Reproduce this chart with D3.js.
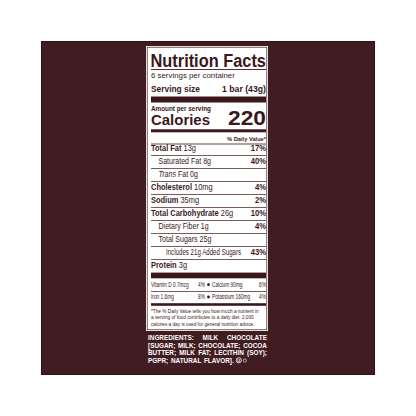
<!DOCTYPE html>
<html>
<head>
<meta charset="utf-8">
<script src="https://cdn.jsdelivr.net/npm/d3@7"></script>
<style>
  html, body { margin: 0; padding: 0; background: #ffffff; }
  svg { display: block; }
</style>
</head>
<body>
<svg id="label"></svg>
<script>
// 1. Data

const servingsText = "6 servings per container"
const servingSize = ["Serving size", "1 bar (43g)"]
const calories = "220"

const nutrients = ["Total Fat", "Saturated Fat", "Trans Fat", "Cholesterol", "Sodium",
  "Total Carbohydrate", "Dietary Fiber", "Total Sugars", "Includes 21g Added Sugars", "Protein"]
const amounts = ["13g", "8g", "0g", "10mg", "35mg", "26g", "1g", "25g", "", "3g"]
const dailyValues = ["17%", "40%", "", "4%", "2%", "10%", "4%", "", "43%", ""]
const levels = [0, 1, 1, 0, 0, 0, 1, 1, 2, 0]

const minerals = ["Vitamin D", "Calcium", "Iron", "Potassium"]
const mineralAmounts = ["0.7mcg", "90mg", "1.6mg", "160mg"]
const mineralDV = ["4%", "6%", "8%", "4%"]

const footnote = [
  "*The % Daily Value tells you how much a nutrient in",
  "a serving of food contributes to a daily diet. 2,000",
  "calories a day is used for general nutrition advice.",
]

const ingredients = [
  "INGREDIENTS: MILK CHOCOLATE",
  "[SUGAR; MILK; CHOCOLATE; COCOA",
  "BUTTER; MILK FAT; LECITHIN (SOY);",
  "PGPR; NATURAL FLAVOR].",
]

// 2. Dimensions

const width = 416
const height = 416
const square = { x: 41.5, y: 41.5, size: 333 }
const panel = { x0: 146, x1: 268, y0: 46, y1: 331 }
const L = 151
const R = 266
const ink = "#3a171b"
const maroon = "#411c21"
const font = "'Liberation Sans', Arial, Helvetica, sans-serif"

const wrapper = d3.select("#label")
    .attr("width", width)
    .attr("height", height)
    .attr("font-family", font)

// 3. Scales

const rowScale = d3.scaleLinear()
  .domain([0, nutrients.length - 1])
  .range([151, 268.3])

const indentScale = d3.scaleLinear()
  .domain([0, 2])
  .range([L, L + 15])

// helpers

// squeeze a text horizontally (condensed type) with a transform
function squeeze(t, x, y, target, factor) {
  const natural = t.node().getComputedTextLength()
  const sx = target ? target / natural : factor
  t.attr("x", 0).attr("y", 0)
      .attr("transform", `translate(${x},${y}) scale(${sx},1)`)
  return natural * sx
}

function addText(parent, str, x, y, size, opts = {}) {
  const t = parent.append("text")
      .attr("font-size", size)
      .attr("font-weight", opts.bold ? "bold" : "normal")
      .attr("text-anchor", opts.anchor || "start")
      .attr("fill", opts.fill || ink)
      .text(str)
  squeeze(t, x, y, opts.width, opts.cond || 0.88)
  return t
}

function rule(parent, y, h, x0 = L, x1 = R) {
  parent.append("rect")
      .attr("x", x0)
      .attr("y", y)
      .attr("width", x1 - x0)
      .attr("height", h)
      .attr("fill", ink)
}

// 4. Background square and white panel

wrapper.append("rect")
    .attr("x", square.x)
    .attr("y", square.y)
    .attr("width", square.size)
    .attr("height", square.size)
    .attr("fill", maroon)
    .attr("stroke", "#2f1215")
    .attr("stroke-width", 1)

wrapper.append("rect")
    .attr("x", panel.x0)
    .attr("y", panel.y0)
    .attr("width", panel.x1 - panel.x0)
    .attr("height", panel.y1 - panel.y0)
    .attr("fill", "#ffffff")

wrapper.append("rect")
    .attr("x", panel.x0 + 1.2)
    .attr("y", panel.y0 + 1.2)
    .attr("width", panel.x1 - panel.x0 - 2.4)
    .attr("height", panel.y1 - panel.y0 - 2.4)
    .attr("fill", "none")
    .attr("stroke", ink)
    .attr("stroke-width", 0.7)

const g = wrapper.append("g")

// 5. Header

addText(g, "Nutrition Facts", L - 0.5, 66.5, 17.5, { bold: true, width: 115.5 })
rule(g, 69, 0.9)
addText(g, servingsText, L, 78.3, 8, { width: 84 })
addText(g, servingSize[0], L, 91.5, 9, { bold: true, width: 49 })
addText(g, servingSize[1], R, 91.5, 9, { bold: true, anchor: "end", width: 44 })
rule(g, 96.5, 6)
addText(g, "Amount per serving", L, 110.5, 7, { bold: true, width: 60 })
addText(g, "Calories", L, 125, 15.5, { bold: true, width: 59 })
addText(g, calories, R, 125.3, 20, { bold: true, anchor: "end", width: 38 })
rule(g, 129.3, 3)
addText(g, "% Daily Value*", R, 141, 6, { bold: true, anchor: "end", width: 39 })
rule(g, 143.6, 0.8)

// 6. Nutrient rows

const levelCond = [0.9, 0.85, 0.74]

nutrients.forEach((name, i) => {
  const y = rowScale(i)
  const x = indentScale(levels[i])
  const t = g.append("text")
      .attr("font-size", 8.3)
      .attr("fill", ink)
  if (name.startsWith("Trans")) {
    t.append("tspan").attr("font-style", "italic").text("Trans")
    t.append("tspan").text(name.slice(5))
  } else {
    t.append("tspan")
        .attr("font-weight", levels[i] === 0 ? "bold" : "normal")
        .text(name)
  }
  if (amounts[i]) t.append("tspan").text(" " + amounts[i])
  squeeze(t, x, y, null, levelCond[levels[i]])

  if (dailyValues[i]) {
    addText(g, dailyValues[i], R, y, 8.3, { bold: true, anchor: "end", cond: 0.92 })
  }
  if (i < nutrients.length - 1) rule(g, y + 4, 0.7)
})

rule(g, rowScale(nutrients.length - 1) + 4.3, 5.7)

// 7. Vitamins and minerals

const mineralRow = d3.scaleLinear().domain([0, 1]).range([286.7, 299])
const dvEnd = 205
const bulletX = 208.5
const rightStart = 212

d3.range(0, minerals.length, 2).forEach(k => {
  const y = mineralRow(k / 2)
  addText(g, minerals[k] + " " + mineralAmounts[k], L, y, 6.3, { cond: 0.76 })
  addText(g, mineralDV[k], dvEnd, y, 6.3, { anchor: "end", cond: 0.76 })
  g.append("circle")
      .attr("cx", bulletX)
      .attr("cy", y - 2)
      .attr("r", 1.4)
      .attr("fill", ink)
  addText(g, minerals[k + 1] + " " + mineralAmounts[k + 1], rightStart, y, 6.3, { cond: 0.76 })
  addText(g, mineralDV[k + 1], R, y, 6.3, { anchor: "end", cond: 0.76 })
})
rule(g, 291, 0.7)
rule(g, 303.2, 2.6)

// 8. Footnote

const footRow = d3.scaleLinear().domain([0, footnote.length - 1]).range([312.7, 326])
footnote.forEach((line, i) => {
  addText(g, line, L, footRow(i), 5.5, { cond: 0.86 })
})

// 9. Ingredients, justified in white

const ingRow = d3.scaleLinear().domain([0, ingredients.length - 1]).range([340.2, 363])
const ingL = 148
const ingR = 267
const ingSize = 8
const minGap = 2.6
const ing = wrapper.append("g")

// natural word widths, then one condensing factor that lets every justified line fit
const ingWords = ingredients.map(line => line.split(" "))
const natural = ingWords.map(words => words.map(w => {
  const t = ing.append("text").attr("font-size", ingSize).attr("font-weight", "bold").text(w)
  const len = t.node().getComputedTextLength()
  t.remove()
  return len
}))
const ingCond = d3.min(natural.slice(0, -1), (ws) =>
  (ingR - ingL - minGap * (ws.length - 1)) / d3.sum(ws))

ingWords.forEach((words, i) => {
  const y = ingRow(i)
  const widths = natural[i].map(w => w * ingCond)
  const last = i === ingredients.length - 1
  const gap = last ? minGap : (ingR - ingL - d3.sum(widths)) / (words.length - 1)
  let x = ingL
  words.forEach((w, j) => {
    addText(ing, w, x, y, ingSize, { bold: true, fill: "#ffffff", width: widths[j] })
    x += widths[j] + gap
  })
  if (last) {
    // kosher dairy marks
    ing.append("circle")
        .attr("cx", x + 2.5)
        .attr("cy", y - 2.7)
        .attr("r", 2.6)
        .attr("fill", "none")
        .attr("stroke", "#ffffff")
        .attr("stroke-width", 0.8)
    ing.append("text")
        .attr("x", x + 2.5)
        .attr("y", y - 1.2)
        .attr("font-size", 4)
        .attr("font-weight", "bold")
        .attr("text-anchor", "middle")
        .attr("fill", "#ffffff")
        .text("U")
    ing.append("circle")
        .attr("cx", x + 8.5)
        .attr("cy", y - 2.5)
        .attr("r", 1.6)
        .attr("fill", "none")
        .attr("stroke", "#ffffff")
        .attr("stroke-width", 0.6)
  }
})
</script>
</body>
</html>
